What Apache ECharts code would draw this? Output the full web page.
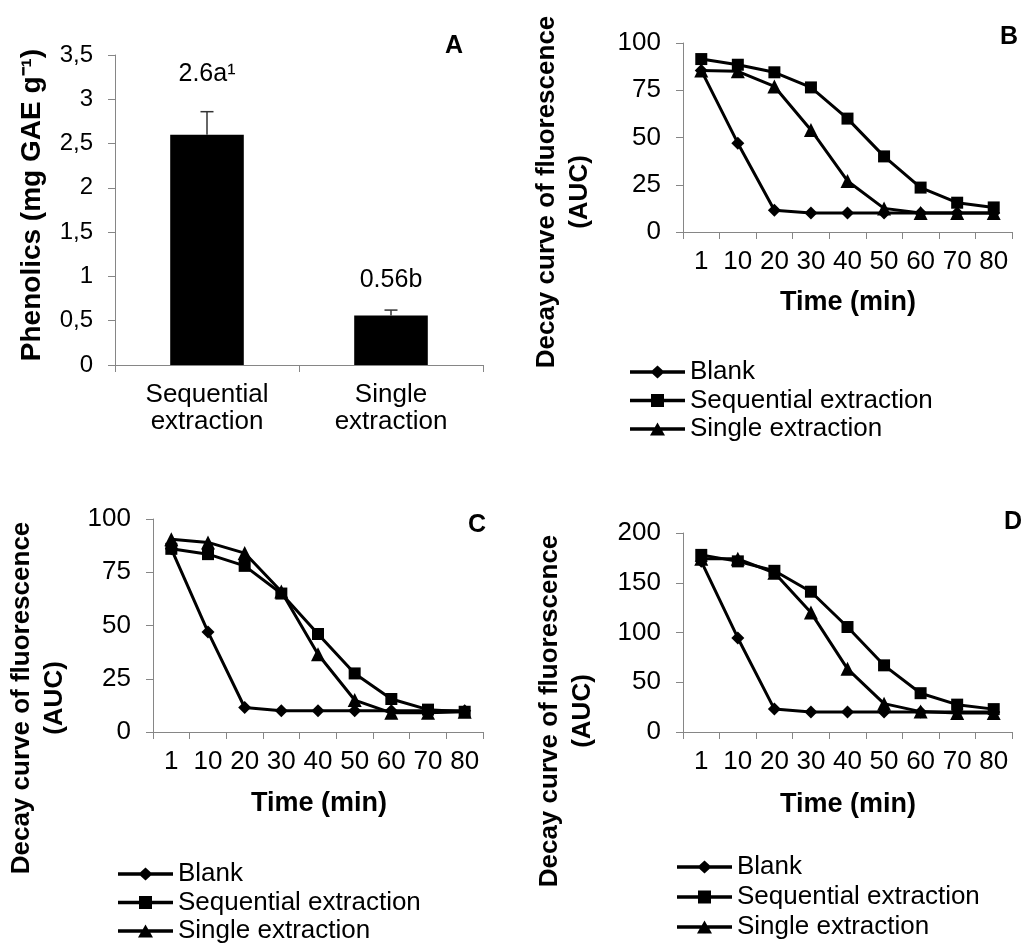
<!DOCTYPE html>
<html>
<head>
<meta charset="utf-8">
<script src="https://cdn.jsdelivr.net/npm/echarts@6/dist/echarts.min.js"></script>
<style>
  html, body { margin: 0; padding: 0; background: #fff; }
  #chart { width: 1024px; height: 943px; }
</style>
</head>
<body>
<div id="chart"></div>
<script>
// ---------- DATA ----------
const phenolicsCategories = ['Sequential\nextraction', 'Single\nextraction'];
const phenolicsValues = [2.6, 0.56];
const phenolicsErrors = [0.26, 0.06];
const phenolicsLabels = ['2.6a\u00b9', '0.56b'];

const timeLabels = ['1', '10', '20', '30', '40', '50', '60', '70', '80'];
const seriesNames = ['Blank', 'Sequential extraction', 'Single extraction'];

const blankB      = [85.5, 47, 11.5, 10, 10, 10, 10, 10, 10];
const sequentialB = [91.5, 88.5, 84.5, 76.5, 60, 40, 23.5, 15.5, 13];
const singleB     = [85.5, 85, 77, 54, 27, 12.5, 10, 10, 10];

const blankC      = [86, 47, 11.5, 10, 10, 10, 10, 10, 10];
const sequentialC = [86, 83.5, 78, 65, 46, 27.5, 15.5, 10.5, 9.5];
const singleC     = [90.5, 89, 84, 66, 36.5, 15, 9, 9, 9.5];

const blankD      = [171.5, 94.5, 23, 20, 20, 20, 20, 20, 20];
const sequentialD = [178, 171.5, 162, 141, 105.5, 67, 39, 27.5, 23];
const singleD     = [174, 174, 160, 120, 63.5, 28.5, 20.5, 19, 19];

// ---------- STYLE ----------
const FONT = 'Liberation Sans, Arial, Helvetica, sans-serif';
const AXIS_GREY = '#868686';
const labelDistances = [48, 23];
// legend icons: thick line with the marker in the middle (55 x 13 box)
const legendIcons = [
  'path://M0,4.7 L22.3,4.7 L27.5,0 L32.7,4.7 L55,4.7 L55,8.3 L32.7,8.3 L27.5,13 L22.3,8.3 L0,8.3 Z',
  'path://M0,4.7 L21,4.7 L21,0 L34,0 L34,4.7 L55,4.7 L55,8.3 L34,8.3 L34,13 L21,13 L21,8.3 L0,8.3 Z',
  'path://M0,4.7 L24.8,4.7 L27.5,0 L30.2,4.7 L55,4.7 L55,8.3 L32.3,8.3 L35,13 L20,13 L22.7,8.3 L0,8.3 Z'
];

const chart = echarts.init(document.getElementById('chart'), null, { renderer: 'canvas' });

function valueAxis(gridIndex, max, interval, fontSize, formatter) {
  return {
    type: 'value', gridIndex, min: 0, max, interval,
    axisLine: { show: true, lineStyle: { color: AXIS_GREY, width: 1 } },
    axisTick: { show: true, length: 7, lineStyle: { color: AXIS_GREY } },
    splitLine: { show: false },
    axisLabel: { color: '#000', fontSize, fontFamily: FONT, margin: 22, formatter }
  };
}
function timeAxis(gridIndex) {
  return {
    type: 'category', gridIndex, data: timeLabels, boundaryGap: true,
    axisLine: { show: true, lineStyle: { color: AXIS_GREY, width: 1 } },
    axisTick: { show: true, length: 7, alignWithLabel: false, interval: 0, lineStyle: { color: AXIS_GREY } },
    axisLabel: { color: '#000', fontSize: 26, fontFamily: FONT, margin: 17, interval: 0 },
    splitLine: { show: false }
  };
}
const symbols = ['diamond', 'rect', 'triangle'];
const symbolSizes = [13, 12, 14];
function lineSeries(idx, name, data, z) {
  return {
    type: 'line', name, data, xAxisIndex: idx, yAxisIndex: idx,
    symbol: symbols[seriesNames.indexOf(name)],
    symbolSize: symbolSizes[seriesNames.indexOf(name)],
    showAllSymbol: true,
    lineStyle: { color: '#000', width: 3 },
    itemStyle: { color: '#000' },
    z, animation: false
  };
}
function legendAt(left, top, gap) {
  return {
    orient: 'vertical', left, top, height: 160,
    data: seriesNames.map((n, i) => ({ name: n, icon: legendIcons[i] })),
    itemWidth: 55, itemHeight: 13, itemGap: gap,
    itemStyle: { color: '#000', borderWidth: 0 },
    textStyle: { color: '#000', fontSize: 26, fontFamily: FONT, lineHeight: 28 },
    selectedMode: false
  };
}
function vText(text, x, y, size) {
  return {
    type: 'text', x, y, rotation: Math.PI / 2,
    style: {
      text, fill: '#000', fontSize: size, fontWeight: 'bold', fontFamily: FONT,
      lineHeight: 33, align: 'center', verticalAlign: 'middle',
      textAlign: 'center', textVerticalAlign: 'middle'
    }
  };
}
function hText(text, x, y, size) {
  return {
    type: 'text', x, y,
    style: {
      text, fill: '#000', fontSize: size, fontWeight: 'bold', fontFamily: FONT,
      align: 'center', verticalAlign: 'middle',
      textAlign: 'center', textVerticalAlign: 'middle'
    }
  };
}

const option = {
  backgroundColor: '#fff',
  animation: false,
  textStyle: { fontFamily: FONT },
  grid: [
    { left: 115, top: 55, width: 368, height: 310, containLabel: false, outerBoundsMode: 'none' },
    { left: 683, top: 43, width: 329, height: 189, containLabel: false, outerBoundsMode: 'none' },
    { left: 153, top: 519, width: 330, height: 213, containLabel: false, outerBoundsMode: 'none' },
    { left: 683, top: 533, width: 329, height: 199, containLabel: false, outerBoundsMode: 'none' }
  ],
  xAxis: [
    {
      type: 'category', gridIndex: 0, data: phenolicsCategories,
      axisLine: { show: true, lineStyle: { color: AXIS_GREY, width: 1 } },
      axisTick: { show: true, length: 7, lineStyle: { color: AXIS_GREY } },
      axisLabel: { color: '#000', fontSize: 26, fontFamily: FONT, margin: 16, lineHeight: 27, interval: 0 }
    },
    timeAxis(1), timeAxis(2), timeAxis(3)
  ],
  yAxis: [
    valueAxis(0, 3.5, 0.5, 24, v => String(v).replace('.', ',')),
    valueAxis(1, 100, 25, 26),
    valueAxis(2, 100, 25, 26),
    valueAxis(3, 200, 50, 26)
  ],
  legend: [legendAt(625, 353, 0.5), legendAt(113, 855, 0.5), legendAt(672, 848, 2)],
  series: [
    {
      type: 'bar', xAxisIndex: 0, yAxisIndex: 0, barWidth: '40%',
      itemStyle: { color: '#000' },
      data: phenolicsValues.map((v, i) => ({
        value: v,
        label: {
          show: true, position: 'top', distance: labelDistances[i],
          formatter: phenolicsLabels[i], color: '#000', fontSize: 25, fontFamily: FONT
        }
      }))
    },
    {
      type: 'custom', xAxisIndex: 0, yAxisIndex: 0, z: 5,
      data: phenolicsValues.map((v, i) => [i, v, v + phenolicsErrors[i]]),
      renderItem(params, api) {
        const base = api.coord([api.value(0), api.value(1)]);
        const top = api.coord([api.value(0), api.value(2)]);
        const cap = 6.5;
        const st = { stroke: '#333', lineWidth: 1.5 };
        return {
          type: 'group', children: [
            { type: 'line', shape: { x1: base[0], y1: base[1], x2: top[0], y2: top[1] }, style: st },
            { type: 'line', shape: { x1: top[0] - cap, y1: top[1], x2: top[0] + cap, y2: top[1] }, style: st }
          ]
        };
      }
    },
    lineSeries(1, seriesNames[0], blankB, 3),
    lineSeries(1, seriesNames[1], sequentialB, 5),
    lineSeries(1, seriesNames[2], singleB, 4),
    lineSeries(2, seriesNames[0], blankC, 3),
    lineSeries(2, seriesNames[1], sequentialC, 5),
    lineSeries(2, seriesNames[2], singleC, 4),
    lineSeries(3, seriesNames[0], blankD, 3),
    lineSeries(3, seriesNames[1], sequentialD, 5),
    lineSeries(3, seriesNames[2], singleD, 4)
  ],
  graphic: [
    vText('Phenolics (mg GAE g\u207b\u00b9)', 32, 205, 28),
    vText('Decay curve of fluorescence\n(AUC)', 563, 192, 26),
    vText('Decay curve of fluorescence\n(AUC)', 38, 698, 26),
    vText('Decay curve of fluorescence\n(AUC)', 566, 711, 26),
    hText('Time (min)', 848, 303, 27),
    hText('Time (min)', 319, 804, 27),
    hText('Time (min)', 848, 805, 27),
    hText('A', 454, 46, 25),
    hText('B', 1009, 37, 25),
    hText('C', 477, 525, 25),
    hText('D', 1013, 522, 25)
  ]
};
chart.setOption(option);
</script>
</body>
</html>
